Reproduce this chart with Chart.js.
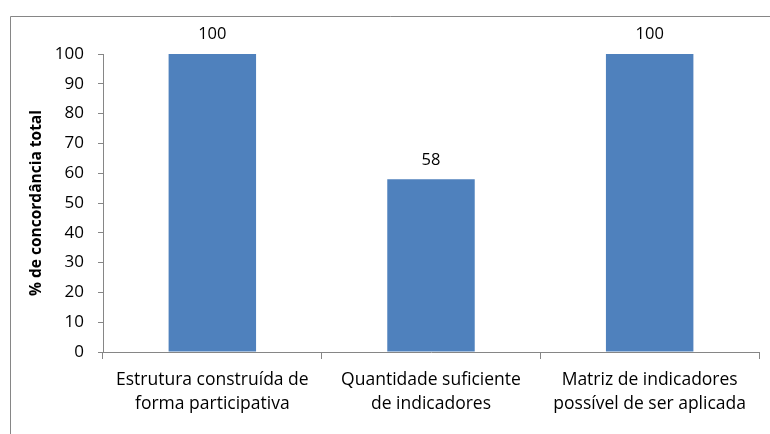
<!DOCTYPE html>
<html>
<head>
<meta charset="utf-8">
<script src="https://cdn.jsdelivr.net/npm/chart.js@4/dist/chart.umd.min.js"></script>
<style>
  html, body { margin: 0; padding: 0; background: #fff; }
  #wrap { width: 770px; height: 434px; }
</style>
</head>
<body>
<div id="wrap"><canvas id="chart" width="770" height="434"></canvas></div>
<script>
const categories = [
    ['Estrutura construída de', 'forma participativa'],
    ['Quantidade suficiente', 'de indicadores'],
    ['Matriz de indicadores', 'possível de ser aplicada']
];
const values = [100, 58, 100];
const yTicks = [0, 10, 20, 30, 40, 50, 60, 70, 80, 90, 100];

const axisGray = '#868686';
const fontFamily = '"Open Sans", "Noto Sans", sans-serif';

// frame around the chart, cut off at right and bottom like the original
const framePlugin = {
    id: 'frame',
    beforeDraw: function (chart) {
        const ctx = chart.ctx;
        ctx.save();
        ctx.strokeStyle = axisGray;
        ctx.lineWidth = 1;
        ctx.beginPath();
        ctx.moveTo(10.5, 440);
        ctx.lineTo(10.5, 16.5);
        ctx.lineTo(780, 16.5);
        ctx.stroke();
        ctx.restore();
    }
};

// value on top of each bar
const valueLabels = {
    id: 'valueLabels',
    afterDatasetsDraw: function (chart) {
        const ctx = chart.ctx;
        const meta = chart.getDatasetMeta(0);
        ctx.save();
        ctx.fillStyle = '#000';
        ctx.font = '16.5px ' + fontFamily;
        ctx.textAlign = 'center';
        ctx.textBaseline = 'bottom';
        meta.data.forEach(function (bar, i) {
            ctx.fillText(values[i], bar.x, bar.y - 11);
        });
        ctx.restore();
    }
};

new Chart(document.getElementById('chart'), {
    type: 'bar',
    data: {
        labels: categories,
        datasets: [{
            data: values,
            backgroundColor: '#4F81BD',
            barPercentage: 0.4,
            categoryPercentage: 1.0
        }]
    },
    options: {
        responsive: false,
        animation: false,
        layout: {
            padding: { left: 0, top: 54, right: 11, bottom: 0 }
        },
        scales: {
            x: {
                grid: {
                    offset: true,
                    drawOnChartArea: false,
                    tickLength: 7,
                    color: axisGray
                },
                border: { color: axisGray },
                ticks: {
                    color: '#000',
                    font: { family: fontFamily, size: 17.5, lineHeight: '24px' },
                    padding: 9,
                    maxRotation: 0
                },
                afterFit: function (scale) {
                    scale.height = 82;
                }
            },
            y: {
                min: 0,
                max: 100,
                afterBuildTicks: function (scale) {
                    scale.ticks = yTicks.map(function (v) { return { value: v }; });
                },
                grid: {
                    drawOnChartArea: false,
                    tickLength: 5,
                    color: axisGray
                },
                border: { color: axisGray },
                ticks: {
                    color: '#000',
                    font: { family: fontFamily, size: 17 },
                    padding: 14
                },
                title: {
                    display: true,
                    text: '% de concordância total',
                    color: '#000',
                    font: { family: fontFamily, size: 15.5, weight: 'bold' },
                    padding: { top: 27, bottom: 0 }
                },
                afterFit: function (scale) {
                    scale.width = 103;
                }
            }
        },
        plugins: {
            legend: { display: false },
            tooltip: { enabled: false }
        }
    },
    plugins: [framePlugin, valueLabels]
});
</script>
</body>
</html>
